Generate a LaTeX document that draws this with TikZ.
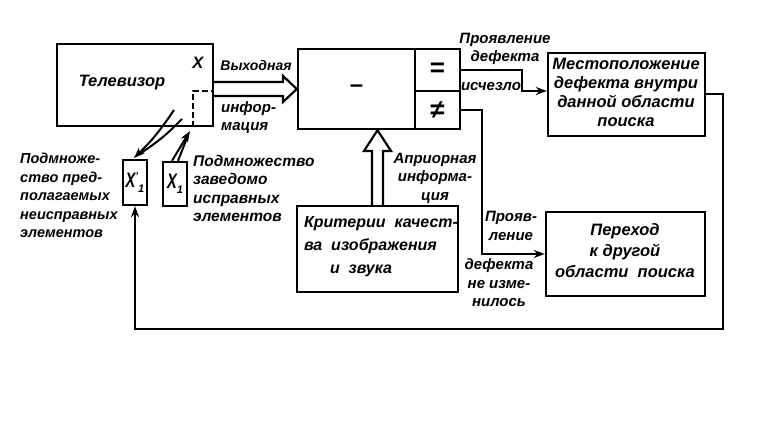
\documentclass[tikz,border=0pt]{standalone}
\usepackage{fontspec}
\setmainfont{Liberation Sans}
\usetikzlibrary{arrows.meta,calc}
\tikzset{
  box/.style={draw, line width=2.4pt, inner sep=0pt},
  conn/.style={line width=2pt, -{Stealth[length=11pt,width=8pt]}},
  plain/.style={line width=2pt},
  hollow/.style={line width=2.2pt, line join=miter},
  lbl/.style={font=\fontsize{16.5}{19}\selectfont\bfseries\itshape, inner sep=0pt, align=center},
  elbl/.style={font=\fontsize{15}{18.5}\selectfont\bfseries\itshape, inner sep=0pt, align=center},
  lbll/.style={font=\fontsize{15.5}{18.5}\selectfont\bfseries\itshape, inner sep=0pt, align=left}
}
\begin{document}
\begin{tikzpicture}[x=1pt,y=-1pt]
\useasboundingbox (0,0) rectangle (764,430);
% boxes
\node[box, minimum width=156pt, minimum height=82pt] (tv) at (135,85) {};
\node[box, minimum width=117pt, minimum height=80pt] (diff) at (356.5,89) {};
\node[box, minimum width=45pt, minimum height=42pt] (eqc) at (437.5,70) {};
\node[box, minimum width=45pt, minimum height=38pt] (nec) at (437.5,110) {};
\node[box, minimum width=157pt, minimum height=83pt] (loc) at (626.5,94.5) {};
\node[box, minimum width=159pt, minimum height=84pt] (nxt) at (625.5,254) {};
\node[box, minimum width=161pt, minimum height=86pt] (crit) at (377.5,249) {};
\node[box, minimum width=24pt, minimum height=45pt] (x1p) at (135,182.5) {};
\node[box, minimum width=24pt, minimum height=44pt] (x1) at (175,184) {};
% box texts
\node[lbl] (tvt) at (122,83) {Телевизор};
\node[lbl] (xt) at (198,63) {X};
\node[lbl, font=\fontsize{24}{24}\selectfont\bfseries] (minus) at (diff.center) {–};
\node[lbl, font=\fontsize{26}{26}\selectfont\bfseries] (eqt) at (eqc.center) {=};
\node[lbl, font=\fontsize{26}{26}\selectfont\bfseries] (net) at (nec.center) {≠};
\node[lbl] (loct) at (626,92) {Местоположение\\дефекта внутри\\данной области\\поиска};
\node[lbl, font=\fontsize{16.5}{21}\selectfont\bfseries\itshape] (nxtt) at (625,251) {Переход\\к другой\\области~~поиска};
\node[lbll, font=\fontsize{16}{23}\selectfont\bfseries\itshape] (critt) at (381,247) {Критерии~~качест-\\ва~~изображения\\\hspace*{26pt}и~~звука};
\node[lbl] (x1pt) at (x1p.center) {\scalebox{0.7}[1]{\fontsize{21}{21}\selectfont X}\raisebox{8pt}{\fontsize{10}{10}\selectfont '}\raisebox{-5pt}{\fontsize{11}{11}\selectfont 1}};
\node[lbl] (x1t) at (x1.center) {\scalebox{0.7}[1]{\fontsize{21}{21}\selectfont X}\raisebox{-5pt}{\fontsize{11}{11}\selectfont 1}};
% dashed region inside TV
\coordinate (dc) at ($(tv.south east)+(-21,-36)$);
\draw[line width=2pt, dash pattern=on 6pt off 3pt] ($(tv.south east)+(-21,0)$) -- (dc) -- (tv.east |- dc);
% hollow arrows
\draw[hollow] (tv.east |- 0,82) -- (283,82) -- (283,76) -- (diff.west) -- (283,102) -- (283,96) -- (tv.east |- 0,96);
\draw[hollow] (crit.north -| 372,0) -- (372,151) -- (364,151) -- (crit.north |- diff.south) -- (391,151) -- (383,151) -- (crit.north -| 383,0);
% TV -> X1'
\coordinate (ta) at (174,110);
\coordinate (tb) at (182,119);
\coordinate (tipa) at (134,158);
\draw[conn] (ta) to[bend left=6] (tipa);
\draw[plain] (tb) to[bend left=6] (141,153);
% X1 -> dashed region
\coordinate (tipb) at (190,131);
\draw[conn] ($(x1.north)+(-3,0)$) -- (tipb);
\draw[plain] ($(x1.north)+(3,0)$) -- (187,138);
% comparator outputs
\draw[conn] (eqc.east) -| (522,91) -- (loc.west |- 522,91);
\draw[conn] (nec.east) -| (nxt.west -| 482,0) -- (nxt.west);
% feedback
\draw[conn] (loc.east) -| (723,329) -| (x1p.south);
% labels
\node[elbl, font=\fontsize{14}{18}\selectfont\bfseries\itshape] (outl1) at (256,65) {Выходная};
\node[lbll, font=\fontsize{15}{18}\selectfont\bfseries\itshape, anchor=north west] (outl2) at (221,101) {инфор-\\мация};
\node[elbl] (disl) at (505,49) {Проявление\\дефекта};
\node[elbl] (disl2) at (491,87) {исчезло};
\node[elbl] (nchl1) at (511,226) {Прояв-\\ление};
\node[elbl] (nchl2) at (499,283) {дефекта\\не изме-\\нилось};
\node[elbl] (aprl) at (435,178) {Априорная\\информа-\\ция};
\node[lbll, font=\fontsize{14.5}{18.5}\selectfont\bfseries\itshape, anchor=north west] (suspl) at (20,153) {Подмноже-\\ство пред-\\полагаемых\\неисправных\\элементов};
\node[lbll, anchor=north west] (goodl) at (193,155) {Подмножество\\заведомо\\исправных\\элементов};
\end{tikzpicture}
\end{document}
